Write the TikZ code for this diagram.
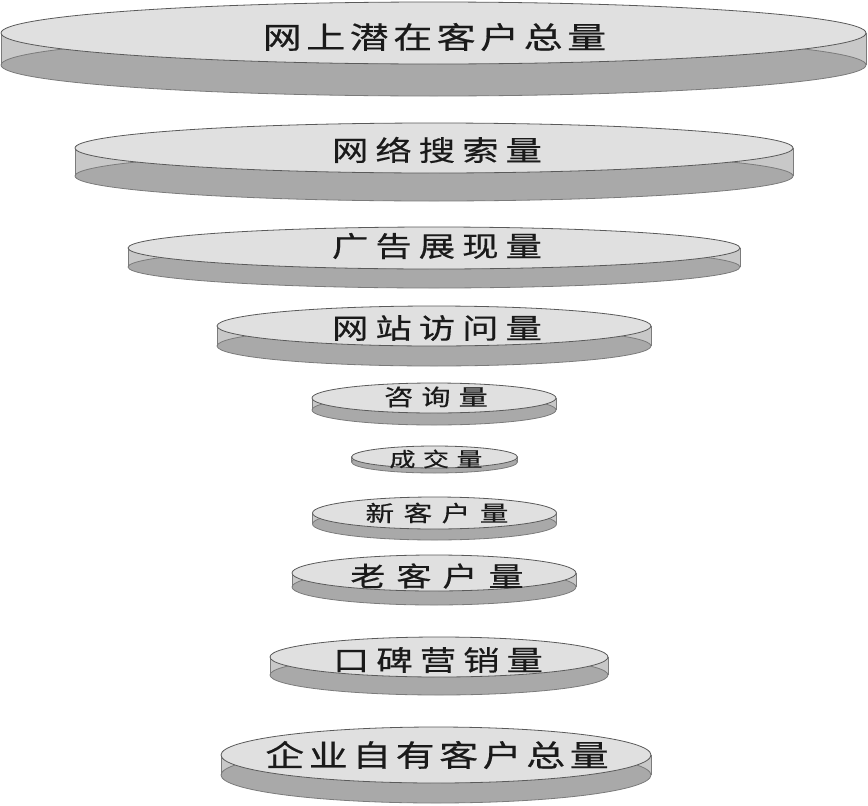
\documentclass[tikz,border=0pt]{standalone}
\usepackage{fontspec}
\newfontfamily\cjk[FakeStretch=1.3,FakeBold=0.4]{Noto Sans CJK SC}
\makeatletter
\newcommand\myspaced[2]{\@tfor\msp@c:=#2\do{\msp@c\kern#1}\kern-#1}
\makeatother
\definecolor{topfill}{HTML}{E0E0E0}
\definecolor{sidefill}{HTML}{C8C8C8}
\definecolor{botfill}{HTML}{A9A9A9}
\definecolor{rimline}{HTML}{5A5A5A}
\definecolor{txt}{HTML}{1A1A1A}
\tikzset{
  topface/.style={fill=topfill, draw=rimline, line width=0.8pt},
  botface/.style={fill=botfill, draw=rimline!80, line width=0.8pt},
  sideface/.style={fill=sidefill},
  sideedge/.style={draw=rimline!80, line width=0.7pt},
  lbl/.style={inner sep=0pt, text=txt, font=\cjk}
}
% #1 cx, #2 cy (top centre), #3 rx, #4 ry, #5 thickness
\newcommand\drawdisc[5]{%
  \fill[sideface] ({#1-#3},{#2}) rectangle ({#1+#3},{#2+#5});
  \draw[botface] ({#1},{#2+#5}) ellipse [x radius=#3, y radius=#4];
  \draw[sideedge] ({#1-#3},{#2}) -- ({#1-#3},{#2+#5}) ({#1+#3},{#2}) -- ({#1+#3},{#2+#5});
  \draw[topface] ({#1},{#2}) ellipse [x radius=#3, y radius=#4];
}
\begin{document}
\begin{tikzpicture}[x=1pt,y=-1pt]
\useasboundingbox (0,0) rectangle (868,806);
\drawdisc{433.5}{33}{432.5}{31}{32}
\drawdisc{434}{148}{359}{25}{28}
\drawdisc{434}{248}{306}{21}{19}
\drawdisc{434}{326}{217}{20}{20}
\drawdisc{434}{398}{122}{15}{12}
\drawdisc{434.5}{457}{83}{11}{5}
\drawdisc{434.5}{513}{122}{16}{11}
\drawdisc{434}{573}{142}{18}{14}
\drawdisc{439}{657}{169}{20}{18}
\drawdisc{436}{755}{215}{28}{20}

\node[lbl] (t1) at (434.5,37) {\fontsize{30}{30}\selectfont\myspaced{4.5pt}{网上潜在客户总量}};
\node[lbl] (t2) at (437,150) {\fontsize{28}{28}\selectfont\myspaced{7pt}{网络搜索量}};
\node[lbl] (t3) at (437,246) {\fontsize{28}{28}\selectfont\myspaced{7pt}{广告展现量}};
\node[lbl] (t4) at (437,328) {\fontsize{28}{28}\selectfont\myspaced{7pt}{网站访问量}};
\node[lbl] (t5) at (436,397) {\fontsize{22.5}{22.5}\selectfont\myspaced{8pt}{咨询量}};
\node[lbl] (t6) at (436,459) {\fontsize{20}{20}\selectfont\myspaced{7.5pt}{成交量}};
\node[lbl] (t7) at (437,513) {\fontsize{22}{22}\selectfont\myspaced{9.5pt}{新客户量}};
\node[lbl] (t8) at (437,576) {\fontsize{27}{27}\selectfont\myspaced{11pt}{老客户量}};
\node[lbl] (t9) at (438,660) {\fontsize{28}{28}\selectfont\myspaced{7pt}{口碑营销量}};
\node[lbl] (t10) at (437,755) {\fontsize{30}{30}\selectfont\myspaced{4.5pt}{企业自有客户总量}};
\end{tikzpicture}
\end{document}
